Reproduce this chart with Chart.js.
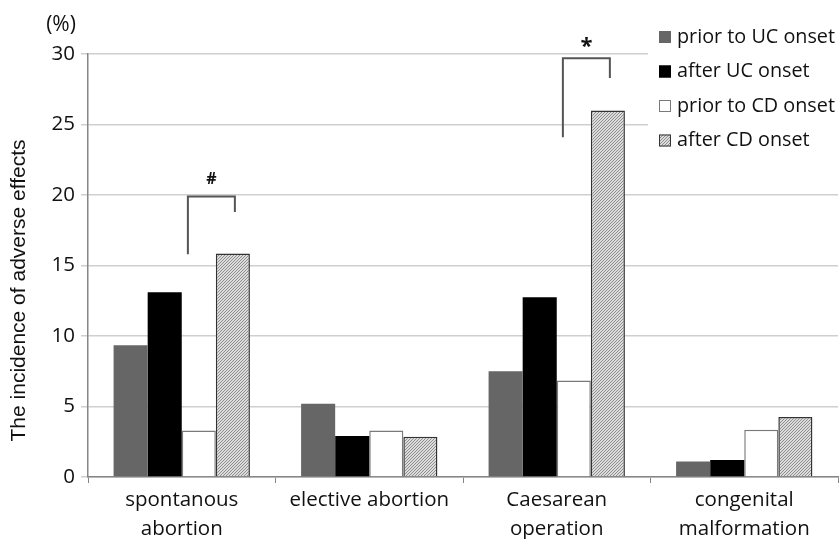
<!DOCTYPE html>
<html>
<head>
<meta charset="utf-8">
<script src="https://cdn.jsdelivr.net/npm/chart.js@4/dist/chart.umd.min.js"></script>
<style>
  html, body { margin: 0; padding: 0; background: #fff; }
  #wrap { width: 839px; height: 539px; }
</style>
</head>
<body>
<div id="wrap"><canvas id="chart" width="839" height="539"></canvas></div>
<script>
const categories = [['spontanous', 'abortion'], 'elective abortion', ['Caesarean', 'operation'], ['congenital', 'malformation']];
const seriesNames = ['prior to UC onset', 'after UC onset', 'prior to CD onset', 'after CD onset'];
const priorUC = [9.35, 5.2, 7.5, 1.1];
const afterUC = [13.1, 2.9, 12.75, 1.2];
const priorCD = [3.3, 3.3, 6.85, 3.35];
const afterCD = [15.85, 2.85, 26.0, 4.25];
const yMax = 30;
const yStep = 5;

// significance brackets (between prior/after CD onset)
const sigCategory = [0, 2];
const sigTop = [19.9, 29.7];
const sigLeftEnd = [15.8, 24.1];
const sigRightEnd = [18.8, 28.3];
const sigMark = ['#', '*'];

const FONT = '"Open Sans", Lato, sans-serif';
const TITLE_FONT = '"Liberation Sans", Arial, sans-serif';

function hatchPattern() {
    const c = document.createElement('canvas');
    c.width = 3; c.height = 3;
    const x = c.getContext('2d');
    x.fillStyle = '#dcdcdc';
    x.fillRect(0, 0, 3, 3);
    x.fillStyle = '#8e8e8e';
    x.fillRect(0, 2, 1, 1);
    x.fillRect(1, 1, 1, 1);
    x.fillRect(2, 0, 1, 1);
    return x.createPattern(c, 'repeat');
}

const fills = ['#666666', '#000000', '#ffffff', hatchPattern()];
const borders = ['#666666', '#000000', '#7a7a7a', '#333333'];
const seriesData = [priorUC, afterUC, priorCD, afterCD];

// brackets + marks
const sigPlugin = {
    id: 'sig',
    afterDatasetsDraw(chart) {
        const ctx = chart.ctx;
        const y = chart.scales.y;
        const m2 = chart.getDatasetMeta(2);
        const m3 = chart.getDatasetMeta(3);
        ctx.save();
        ctx.strokeStyle = '#555';
        ctx.lineWidth = 2;
        sigCategory.forEach((ci, i) => {
            const b2 = m2.data[ci], b3 = m3.data[ci];
            const xl = b2.x - b2.width * 0.32;
            const xr = b3.x + 2;
            const yt = y.getPixelForValue(sigTop[i]);
            ctx.beginPath();
            ctx.moveTo(xl, y.getPixelForValue(sigLeftEnd[i]));
            ctx.lineTo(xl, yt);
            ctx.lineTo(xr, yt);
            ctx.lineTo(xr, y.getPixelForValue(sigRightEnd[i]));
            ctx.stroke();
            ctx.fillStyle = '#111';
            ctx.textAlign = 'center';
            ctx.textBaseline = 'alphabetic';
            if (sigMark[i] === '*') {
                ctx.font = 'bold 22px ' + FONT;
                ctx.fillText(sigMark[i], (xl + xr) / 2, yt - 5);
            } else {
                ctx.font = 'bold 16px ' + FONT;
                ctx.fillText(sigMark[i], (xl + xr) / 2, yt - 12);
            }
        });
        ctx.restore();
    }
};

// legend box in upper right, y title and unit
const decoPlugin = {
    id: 'deco',
    afterDraw(chart) {
        const ctx = chart.ctx;
        const a = chart.chartArea;
        ctx.save();
        // legend
        const lx = a.right - 190;
        ctx.fillStyle = '#fff';
        ctx.fillRect(lx, a.top - 30, 200, 135);
        ctx.font = '19.8px ' + FONT;
        ctx.textBaseline = 'middle';
        ctx.textAlign = 'left';
        seriesNames.forEach((name, i) => {
            const cy = a.top - 17 + i * 34.5;
            ctx.fillStyle = fills[i];
            ctx.fillRect(lx + 11, cy - 6, 12, 12);
            ctx.strokeStyle = borders[i];
            ctx.lineWidth = 1;
            ctx.strokeRect(lx + 11.5, cy - 5.5, 11, 11);
            ctx.fillStyle = '#111';
            ctx.fillText(name, lx + 29, cy);
        });
        // unit
        ctx.textAlign = 'center';
        ctx.font = '21px ' + FONT;
        ctx.fillText('(%)', 61, a.top - 29);
        // y title
        ctx.font = '21px ' + TITLE_FONT;
        ctx.translate(19, (a.top + a.bottom) / 2 + 25);
        ctx.rotate(-Math.PI / 2);
        ctx.fillText('The incidence of adverse effects', 0, 0);
        ctx.restore();
    }
};

new Chart(document.getElementById('chart'), {
    type: 'bar',
    data: {
        labels: categories,
        datasets: seriesNames.map((name, i) => ({
            label: name,
            data: seriesData[i],
            backgroundColor: fills[i],
            borderColor: borders[i],
            borderWidth: i >= 2 ? 1.5 : 0,
            borderSkipped: 'start',
            barPercentage: 1,
            categoryPercentage: 0.727
        }))
    },
    options: {
        responsive: false,
        animation: false,
        devicePixelRatio: 1,
        layout: { padding: { top: 54, right: 1, left: 0, bottom: 0 } },
        plugins: {
            legend: { display: false },
            tooltip: { enabled: false }
        },
        scales: {
            x: {
                afterFit(s) { s.height = 62; },
                grid: { offset: true, drawOnChartArea: false, color: '#868686', tickLength: 6 },
                border: { color: '#868686', width: 1.5 },
                ticks: { color: '#111', font: { family: FONT, size: 20.5, lineHeight: 1.4 }, padding: 3, maxRotation: 0 }
            },
            y: {
                min: 0,
                max: yMax,
                afterFit(s) { s.width = 88; },
                grid: { color: '#cfcfcf', lineWidth: 1.5, tickLength: 7 },
                border: { color: '#868686', width: 1.5 },
                ticks: { stepSize: yStep, color: '#111', font: { family: FONT, size: 20.5 }, padding: 6 }
            }
        }
    },
    plugins: [sigPlugin, decoPlugin]
});
</script>
</body>
</html>
